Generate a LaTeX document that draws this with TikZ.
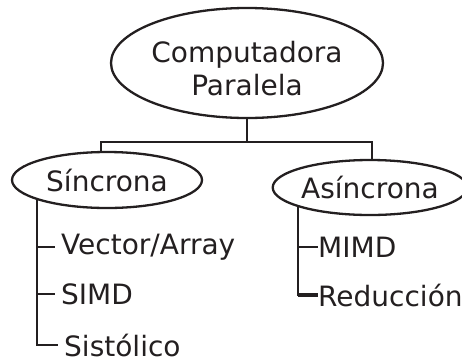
\documentclass[tikz,border=0pt]{standalone}
\usepackage{fontspec}
\setmainfont{DejaVu Sans}
\usetikzlibrary{shapes.geometric}
\definecolor{ink}{RGB}{35,31,32}
\begin{document}
\begin{tikzpicture}[x=1pt,y=-1pt,
  every node/.style={text=ink, font=\fontsize{28}{33}\selectfont},
  oval/.style={draw=ink, ellipse, line width=2.3pt, inner sep=0pt},
  link/.style={draw=ink, line width=2pt},
  leaf/.style={anchor=west, inner ysep=0pt}]
\useasboundingbox (0,0) rectangle (462,362);

% root of the classification
\node[oval, minimum width=272pt, minimum height=110pt] (root) at (247,63) {};
\node[anchor=base, inner sep=0pt] (rootA) at (247,62) {Computadora};
\node[anchor=base, inner sep=0pt] (rootB) at (247,95) {Paralela};

% the two families
\node[oval, minimum width=190pt, minimum height=56pt] (sinc) at (107,180) {Síncrona};
\node[oval, minimum width=184pt, minimum height=55pt] (asinc) at (370,187.5) {Asíncrona};

% bus between root and families
\coordinate (bus) at (247,142);
\coordinate (bl) at (101,142);
\coordinate (br) at (372,142);
\draw[link] (root.south) -- (bus);
\draw[link, line join=miter] (sinc.north -| bl) -- (bl) -- (br) -- (asinc.north -| br);

% synchronous leaves
\node[leaf, inner xsep=6pt] (va)  at (55,247) {Vector/Array};
\node[leaf, inner xsep=6pt] (sd)  at (55,294) {SIMD};
\node[leaf, inner xsep=6pt] (sis) at (58,345) {Sistólico};
\draw[link, line join=miter] (sinc.196) |- (sis.west);
\draw[link] (sinc.196 |- va.west) -- (va.west);
\draw[link] (sinc.196 |- sd.west) -- (sd.west);

% asynchronous leaves
\node[leaf, inner xsep=0pt] (mi)  at (318,247) {MIMD};
\node[leaf, inner xsep=0pt] (red) at (318,295) {Reducción};
\draw[link, line join=miter] (asinc.195.5) |- (red.west);
\draw[link] (asinc.195.5 |- mi.west) -- (mi.west);
\draw[draw=ink, line width=4pt] (asinc.195.5 |- red.west) -- (red.west);
\end{tikzpicture}
\end{document}
